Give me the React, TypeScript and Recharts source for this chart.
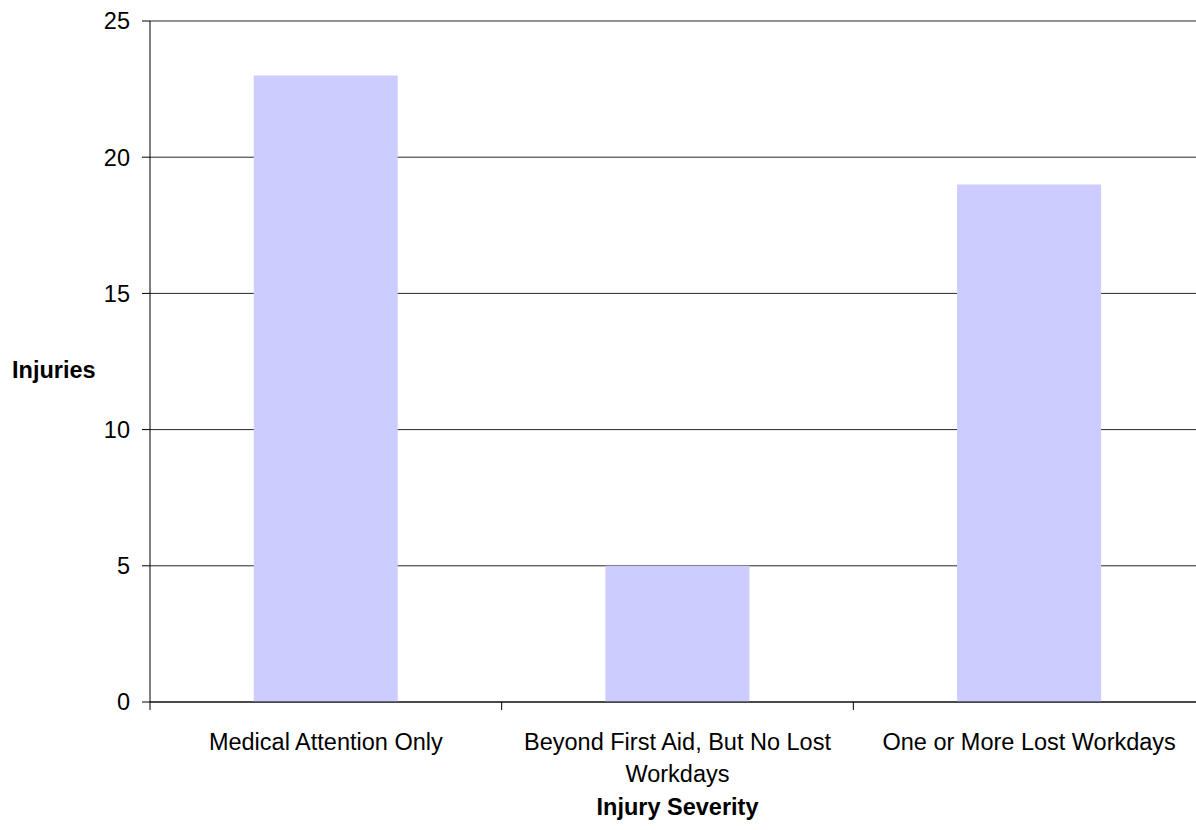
import React from 'react';
import { BarChart, Bar, XAxis, YAxis, CartesianGrid } from 'recharts';

const CATEGORIES = ['Medical Attention Only', 'Beyond First Aid, But No Lost Workdays', 'One or More Lost Workdays'];
const INJURIES = [23, 5, 19];
const Y_TICKS = [0, 5, 10, 15, 20, 25];

const data = CATEGORIES.map((name, i) => ({ name, injuries: INJURIES[i] }));

const FONT = '"Liberation Sans", Arial, sans-serif';
const FS = 23.5;
const TICK_MARGIN = 31;
const LINE_H = 32;

// greedy word wrap using canvas text metrics
const wrap = (text: string, maxWidth: number) => {
  const ctx = document.createElement('canvas').getContext('2d');
  if (!ctx) return [text];
  ctx.font = `${FS}px ${FONT}`;
  const lines: string[] = [];
  let cur = '';
  text.split(' ').forEach(w => {
    const next = cur ? `${cur} ${w}` : w;
    if (cur && ctx.measureText(next).width > maxWidth) {
      lines.push(cur);
      cur = w;
    } else {
      cur = next;
    }
  });
  if (cur) lines.push(cur);
  return lines;
};

const CategoryTick = (props: any) => {
  const { x, y, payload, width, visibleTicksCount, index } = props;
  const band = width / visibleTicksCount;
  const axisY = y - TICK_MARGIN;
  const lines = wrap(String(payload.value), band - 12);
  return (
    <g>
      <line x1={x - band / 2} x2={x - band / 2} y1={axisY} y2={axisY + 8} stroke="#000" />
      {index === visibleTicksCount - 1 && (
        <line x1={x + band / 2} x2={x + band / 2} y1={axisY} y2={axisY + 8} stroke="#000" />
      )}
      <text x={x} y={y} textAnchor="middle" fontSize={FS} fontFamily={FONT} fill="#000">
        {lines.map((l, i) => (
          <tspan key={i} x={x} dy={i === 0 ? '0.71em' : LINE_H}>{l}</tspan>
        ))}
      </text>
    </g>
  );
};

export default function App() {
  return (
    <div style={{ position: 'absolute', left: 0, top: 0, width: 1196, height: 830, overflow: 'hidden', background: '#fff' }}>
      <BarChart
        width={1205}
        height={830}
        data={data}
        margin={{ top: 21, right: 0, left: 0, bottom: 0 }}
        barCategoryGap="29.5%"
        style={{ fontFamily: FONT }}
      >
        <CartesianGrid vertical={false} stroke="#000" strokeOpacity={0.85} />
        <XAxis
          dataKey="name"
          height={128}
          tickLine={false}
          tickSize={0}
          tickMargin={TICK_MARGIN}
          interval={0}
          axisLine={{ stroke: '#000' }}
          tick={<CategoryTick />}
          label={{ value: 'Injury Severity', position: 'insideBottom', offset: 15, fill: '#000', fontSize: FS, fontWeight: 'bold', fontFamily: FONT }}
        />
        <YAxis
          width={150}
          domain={[0, 25]}
          ticks={Y_TICKS}
          interval={0}
          tickSize={8}
          tickMargin={12}
          axisLine={{ stroke: '#000' }}
          tickLine={{ stroke: '#000' }}
          tick={{ fill: '#000', fontSize: FS, fontFamily: FONT }}
          label={{ value: 'Injuries', position: 'insideLeft', offset: 12, dy: 8, fill: '#000', fontSize: FS, fontWeight: 'bold', fontFamily: FONT }}
        />
        <Bar dataKey="injuries" fill="#CCCCFF" isAnimationActive={false} />
      </BarChart>
    </div>
  );
}
